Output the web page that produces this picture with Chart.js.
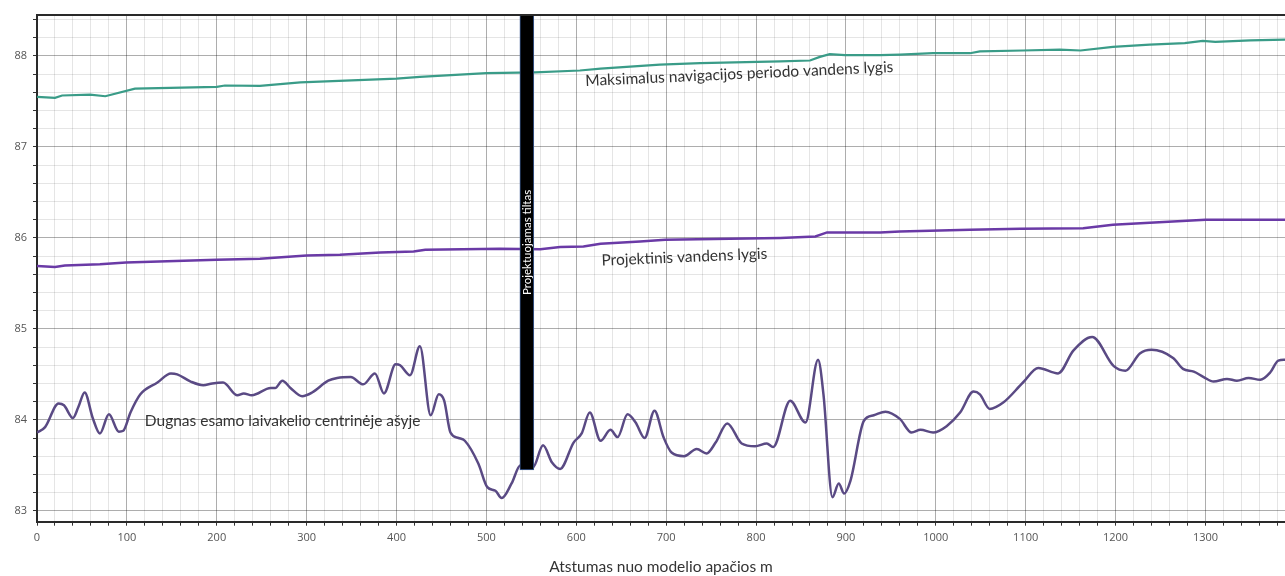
<!DOCTYPE html>
<html>
<head>
<meta charset="utf-8">
<script src="https://cdn.jsdelivr.net/npm/chart.js@4.4.1/dist/chart.umd.min.js"></script>
<style>
html,body{margin:0;padding:0;background:#fff;}
#wrap{width:1285px;height:576px;}
</style>
</head>
<body>
<div id="wrap"><canvas id="c" width="1285" height="576"></canvas></div>
<script>
// ---- Data (distance in m, level in m) ----
const maxLevelDist = [0,20,28,59,76,109,200,209,248,293,400,426,500,554,604,627,693,738,827,860,871,882,899,938,960,997,1038,1049,1097,1138,1161,1197,1238,1277,1297,1311,1350,1389];
const maxLevelVal  = [87.55,87.54,87.565,87.575,87.557,87.64,87.66,87.675,87.67,87.71,87.75,87.77,87.81,87.82,87.84,87.86,87.905,87.92,87.94,87.95,87.99,88.02,88.01,88.01,88.015,88.03,88.03,88.05,88.06,88.07,88.06,88.10,88.125,88.14,88.165,88.155,88.17,88.18];

const projDist = [0,20,31,70,99,200,248,300,337,382,419,432,515,560,582,608,627,671,699,771,827,866,879,938,960,1038,1094,1164,1197,1238,1300,1389];
const projVal  = [85.69,85.68,85.695,85.71,85.73,85.76,85.77,85.805,85.815,85.84,85.85,85.87,85.88,85.875,85.90,85.905,85.935,85.96,85.98,85.99,86.0,86.015,86.06,86.06,86.07,86.09,86.10,86.105,86.145,86.165,86.20,86.20];

const bedDist = [0,9,24,30,40,46,53,62,70,80,91,96,104,115,134,149,156,171,185,195,207,223,230,239,260,265,273,282,295,306,324,334,349,363,376,386,399,404,415,426,438,447,453,460,469,476,491,501,510,517,528,538,552,563,573,582,597,606,615,627,638,646,657,666,676,687,697,706,720,734,745,755,768,784,799,812,819,838,855,869,875,885,892,898,905,920,931,944,960,973,983,997,1012,1027,1042,1049,1060,1075,1097,1114,1136,1153,1174,1198,1211,1227,1240,1264,1275,1287,1298,1309,1324,1335,1348,1361,1372,1381,1389];
const bedVal  = [83.86,83.92,84.18,84.16,84.02,84.14,84.30,84.02,83.85,84.06,83.87,83.88,84.08,84.28,84.41,84.51,84.50,84.42,84.38,84.40,84.41,84.27,84.29,84.27,84.35,84.35,84.43,84.35,84.26,84.30,84.43,84.46,84.47,84.39,84.51,84.29,84.61,84.60,84.49,84.81,84.05,84.28,84.21,83.86,83.80,83.77,83.52,83.26,83.22,83.14,83.30,83.50,83.48,83.72,83.53,83.46,83.75,83.85,84.08,83.77,83.89,83.81,84.06,83.97,83.80,84.10,83.81,83.64,83.60,83.68,83.63,83.75,83.96,83.74,83.71,83.74,83.70,84.21,83.97,84.66,84.28,83.15,83.30,83.19,83.33,83.99,84.05,84.09,84.01,83.86,83.89,83.86,83.93,84.08,84.31,84.28,84.12,84.19,84.41,84.57,84.51,84.76,84.91,84.59,84.54,84.73,84.77,84.68,84.56,84.53,84.47,84.42,84.45,84.43,84.46,84.44,84.52,84.65,84.66];

const bridgeDist   = [545];
const bridgeBottom = [83.45];

const xTickLabels = [0,100,200,300,400,500,600,700,800,900,1000,1100,1200,1300];
const yTickLabels = [83,84,85,86,87,88];

const X_MIN = 0, X_MAX = 1388.5, Y_MIN = 82.88, Y_MAX = 88.45;

// ---- Annotations (text placed in data units) ----
const annotations = [
  {text:'Maksimalus navigacijos periodo vandens lygis', x:610, y:87.725, angle:-2.6},
  {text:'Projektinis vandens lygis', x:628, y:85.75, angle:-2.4},
  {text:'Dugnas esamo laivakelio centrinėje ašyje', x:120, y:83.99, angle:0}
];
const bridgeLabel = {text:'Projektuojamas tiltas', y:85.95};

const pts = (xs, ys) => xs.map((v,i)=>({x:v, y:ys[i]}));

const isWhole = (v, step) => Math.abs(v/step - Math.round(v/step)) < 1e-6;
const MAJOR = 'rgba(0,0,0,0.32)', MINOR = 'rgba(0,0,0,0.10)';

const overlay = {
  id:'overlay',
  afterDatasetsDraw(chart){
    const {ctx, chartArea, scales:{x, y}} = chart;
    ctx.save();
    ctx.strokeStyle = '#2a2a2a'; ctx.lineWidth = 2;
    ctx.beginPath(); ctx.moveTo(chartArea.left, chartArea.top); ctx.lineTo(chartArea.right, chartArea.top); ctx.stroke();
    ctx.restore();
    annotations.forEach(a=>{
      ctx.save();
      ctx.translate(x.getPixelForValue(a.x), y.getPixelForValue(a.y));
      ctx.rotate(a.angle*Math.PI/180);
      ctx.font = '15.5px Lato';
      ctx.fillStyle = '#333';
      ctx.textAlign = 'left'; ctx.textBaseline = 'middle';
      ctx.fillText(a.text, 0, 0);
      ctx.restore();
    });
    const el = chart.getDatasetMeta(0).data[0];
    if (el){
      ctx.save();
      ctx.translate(el.x, y.getPixelForValue(bridgeLabel.y));
      ctx.rotate(-Math.PI/2);
      ctx.font = '11.5px Lato';
      ctx.fillStyle = '#fff';
      ctx.textAlign = 'center'; ctx.textBaseline = 'middle';
      ctx.fillText(bridgeLabel.text, 0, 0);
      ctx.restore();
    }
  }
};

new Chart(document.getElementById('c'), {
  type:'line',
  data:{
    datasets:[
      {
        type:'bar',
        data: bridgeDist.map((d,i)=>({x:d, y:[bridgeBottom[i], Y_MAX]})),
        backgroundColor:'#000',
        borderColor:'#3d5d96',
        borderWidth:1,
        borderSkipped:false,
        barThickness:14,
        grouped:false
      },
      {
        data: pts(bedDist, bedVal),
        borderColor:'#5a4a84',
        borderWidth:2.5,
        pointRadius:0,
        cubicInterpolationMode:'monotone',
        fill:false
      },
      {
        data: pts(projDist, projVal),
        borderColor:'#6a3aa6',
        borderWidth:2.5,
        pointRadius:0,
        tension:0,
        fill:false
      },
      {
        data: pts(maxLevelDist, maxLevelVal),
        borderColor:'#3a9c88',
        borderWidth:2.2,
        pointRadius:0,
        tension:0,
        fill:false
      }
    ]
  },
  options:{
    responsive:false,
    animation:false,
    devicePixelRatio:1,
    layout:{padding:{top:15,left:0,right:0,bottom:0}},
    plugins:{legend:{display:false}, tooltip:{enabled:false}},
    scales:{
      x:{
        type:'linear', min:X_MIN, max:X_MAX, offset:false,
        afterFit(s){ s.height = 54.3; },
        ticks:{
          stepSize:20, includeBounds:false, autoSkip:false, maxRotation:0,
          padding:6, color:'#555', font:{family:'Open Sans', size:11},
          callback:(v)=> (isWhole(v,100) && xTickLabels.includes(Math.round(v))) ? String(Math.round(v)) : ''
        },
        grid:{
          offset:false,
          color:(c)=> (c.tick && isWhole(c.tick.value,100)) ? MAJOR : MINOR,
          tickColor:'#333', tickLength:4, lineWidth:1
        },
        border:{color:'#2a2a2a', width:2},
        title:{display:true, text:'Atstumas nuo modelio apačios m', color:'#333',
               font:{family:'Lato', size:15.5}, padding:{top:0,bottom:0}}
      },
      y:{
        type:'linear', min:Y_MIN, max:Y_MAX,
        afterFit(s){ s.width = 37; },
        ticks:{
          stepSize:0.2, includeBounds:false, autoSkip:false,
          padding:6, color:'#555', font:{family:'Open Sans', size:11},
          callback:(v)=> (isWhole(v,1) && yTickLabels.includes(Math.round(v))) ? String(Math.round(v)) : ''
        },
        grid:{
          color:(c)=> (c.tick && isWhole(c.tick.value,1)) ? MAJOR : MINOR,
          tickColor:'#333', tickLength:4, lineWidth:1
        },
        border:{color:'#2a2a2a', width:2}
      }
    }
  },
  plugins:[overlay]
});
</script>
</body>
</html>
